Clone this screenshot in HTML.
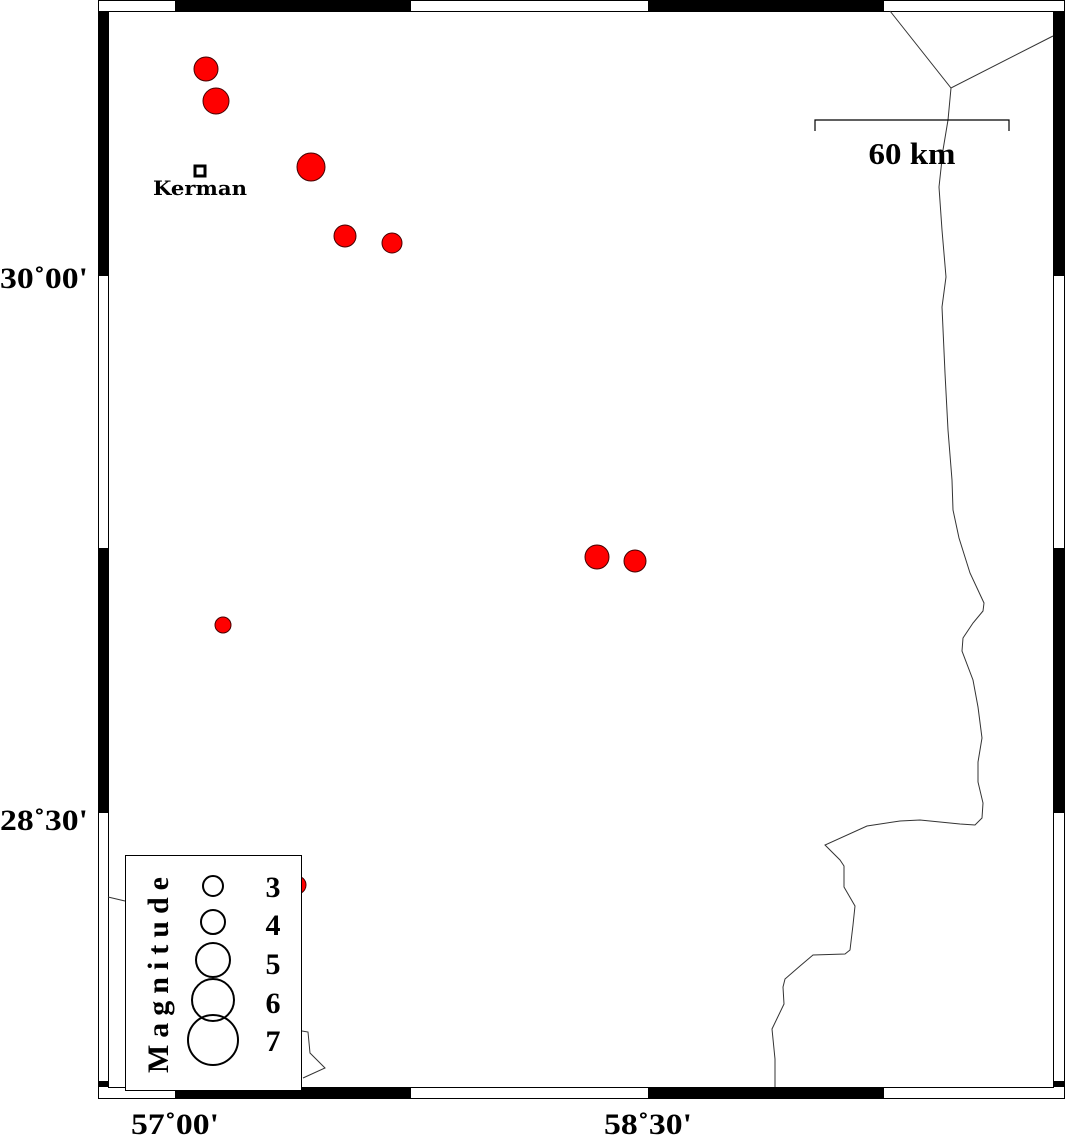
<!DOCTYPE html>
<html><head><meta charset="utf-8"><style>
html,body{margin:0;padding:0;background:#fff;}
svg{display:block;}
text{font-family:"Liberation Serif",serif;font-weight:bold;fill:#000;}
</style></head><body>
<svg width="1066" height="1137" viewBox="0 0 1066 1137" xmlns="http://www.w3.org/2000/svg">
<rect x="0" y="0" width="1066" height="1137" fill="#fff"/>
<g stroke="#000" stroke-width="1">
<rect x="98.5" y="0.5" width="966" height="1098" fill="#fff"/>
<rect x="108.5" y="11.5" width="945" height="1076" fill="#fff"/>
</g>
<g fill="#000">
<rect x="175" y="0" width="236" height="11"/>
<rect x="648" y="0" width="236" height="11"/>
<rect x="175" y="1087" width="236" height="11"/>
<rect x="648" y="1087" width="236" height="11"/>
<rect x="98" y="11" width="10" height="265"/>
<rect x="98" y="548" width="10" height="265"/>
<rect x="98" y="1081" width="10" height="6"/>
<rect x="1054" y="11" width="10" height="265"/>
<rect x="1054" y="548" width="10" height="265"/>
<rect x="1054" y="1081" width="10" height="6"/>
</g>
<g stroke="#333" stroke-width="1" fill="none">
<polyline points="890,11 951,88 1053,36"/>
<polyline points="951,88 948,120 943,150 939,187 942,230 946,277 942,307 945,373 948,430 952,480 953,510 959,538 970,573 984,603 983,611 973,623 963,638 962,651 973,680 978,707 982,738 978,762 978,782 983,803 982,818 975,825 960,824 920,820 900,821 867,826 825,845 840,860 844,866 844,887 855,906 853,925 850,950 845,954 813,955 800,966 785,979 783,987 784,1004 772,1029 775,1059 775,1087"/>
<polyline points="108,897 125,901"/>
<polyline points="302,1031 308,1032 310,1053 325,1068 303,1078"/>
</g>
<g fill="#f00" stroke="#400" stroke-width="1">
<circle cx="206" cy="69" r="12"/>
<circle cx="216" cy="101" r="13"/>
<circle cx="311" cy="167" r="14"/>
<circle cx="345" cy="236" r="11"/>
<circle cx="392" cy="243" r="10"/>
<circle cx="597" cy="557" r="12"/>
<circle cx="635" cy="561" r="11"/>
<circle cx="223" cy="625" r="8"/>
<circle cx="297" cy="885" r="9"/>
</g>
<rect x="195" y="166" width="10" height="10" fill="#fff" stroke="#000" stroke-width="3"/>
<text x="153" y="195" font-size="20" textLength="94" lengthAdjust="spacingAndGlyphs" style="font-family:'DejaVu Serif',serif">Kerman</text>
<polyline points="815,131 815,120 1009,120 1009,131" fill="none" stroke="#000" stroke-width="1.2"/>
<text x="912" y="164" font-size="31" text-anchor="middle" textLength="87" lengthAdjust="spacingAndGlyphs">60 km</text>
<text x="0" y="288" font-size="30" textLength="88" lengthAdjust="spacingAndGlyphs">30˚00'</text>
<text x="0" y="830" font-size="30" textLength="88" lengthAdjust="spacingAndGlyphs">28˚30'</text>
<text x="131" y="1134" font-size="30" textLength="88" lengthAdjust="spacingAndGlyphs">57˚00'</text>
<text x="604" y="1134" font-size="30" textLength="88" lengthAdjust="spacingAndGlyphs">58˚30'</text>
<rect x="125.5" y="855.5" width="176" height="235" fill="#fff" stroke="#000" stroke-width="1"/>
<g fill="none" stroke="#000" stroke-width="2">
<circle cx="213" cy="886" r="10"/>
<circle cx="213" cy="922" r="12"/>
<circle cx="213" cy="960" r="17"/>
<circle cx="213" cy="1000" r="21"/>
<circle cx="213" cy="1040" r="25"/>
</g>
<g font-size="30" text-anchor="middle">
<text x="273" y="897">3</text>
<text x="273" y="935">4</text>
<text x="273" y="974">5</text>
<text x="273" y="1013">6</text>
<text x="273" y="1051">7</text>
</g>
<text transform="translate(168,1073) rotate(-90)" font-size="30" textLength="196" lengthAdjust="spacing">Magnitude</text>
</svg>
</body></html>
